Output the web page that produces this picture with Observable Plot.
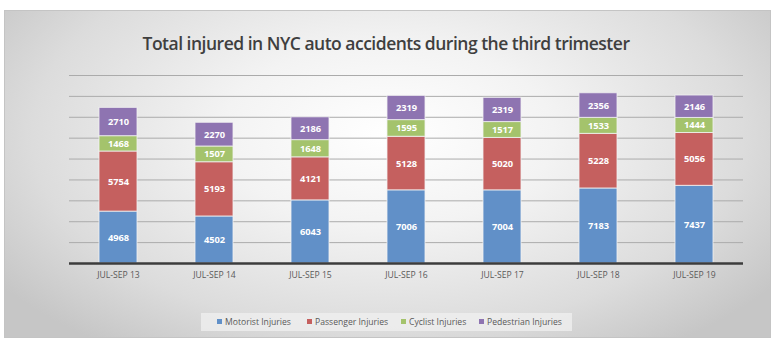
<!DOCTYPE html>
<html>
<head>
<meta charset="utf-8">
<script src="https://cdn.jsdelivr.net/npm/d3@7"></script>
<script src="https://cdn.jsdelivr.net/npm/@observablehq/plot@0.6"></script>
<style>
  html, body { margin: 0; padding: 0; background: #ffffff; }
  body { width: 778px; height: 349px; position: relative; overflow: hidden; font-family: "Open Sans", sans-serif; }
  #frame {
    position: absolute; left: 4px; top: 10px; width: 765px; height: 326px;
    border: 1px solid #c4c4c4;
    background: radial-gradient(ellipse 62% 80% at 50% 38%, #ffffff 0%, #f3f3f3 35%, #dcdcdc 75%, #c6c6c6 100%);
  }
  #title {
    position: absolute; left: 0; width: 772px; top: 31px; text-align: center;
    font-size: 17.5px; font-weight: 600; color: #3f3f3f; letter-spacing: -0.5px;
  }
  #chart { position: absolute; left: 0; top: 60px; }
  #legend {
    position: absolute; left: 201px; top: 313px; width: 371px; height: 18px;
    background: rgba(240,240,240,0.75);
  }
  .item { position: absolute; top: 0; height: 18px; line-height: 18px; font-size: 8.6px; color: #595959; white-space: nowrap; }
  .sw { display: inline-block; width: 5px; height: 5px; margin-right: 3px; vertical-align: 1px; }
</style>
</head>
<body>
<div id="frame"></div>
<div id="title"></div>
<div id="chart"></div>
<div id="legend"></div>
<script>
const titleText = "Total injured in NYC auto accidents during the third trimester";
const periods = ["JUL-SEP 13", "JUL-SEP 14", "JUL-SEP 15", "JUL-SEP 16", "JUL-SEP 17", "JUL-SEP 18", "JUL-SEP 19"];
const seriesNames = ["Motorist Injuries", "Passenger Injuries", "Cyclist Injuries", "Pedestrian Injuries"];
const motorist   = [4968, 4502, 6043, 7006, 7004, 7183, 7437];
const passenger  = [5754, 5193, 4121, 5128, 5020, 5228, 5056];
const cyclist    = [1468, 1507, 1648, 1595, 1517, 1533, 1444];
const pedestrian = [2710, 2270, 2186, 2319, 2319, 2356, 2146];
const gridTicks  = [2000, 4000, 6000, 8000, 10000, 12000, 14000, 16000, 18000];
const colors = ["#6190C8", "#C5605F", "#A4C36C", "#8E74B1"];

const seriesValues = [motorist, passenger, cyclist, pedestrian];
const data = [];
periods.forEach((p, i) => {
  seriesNames.forEach((s, j) => data.push({period: p, series: s, value: seriesValues[j][i]}));
});

document.getElementById("title").textContent = titleText;

const plot = Plot.plot({
  width: 778,
  height: 230,
  marginLeft: 69,
  marginRight: 35,
  marginTop: 15,
  marginBottom: 27,
  style: {background: "transparent", fontFamily: "Open Sans, sans-serif", overflow: "visible"},
  x: {domain: periods, paddingInner: 0.6, paddingOuter: 0.3, label: null},
  y: {domain: [0, 18000], axis: null},
  color: {domain: seriesNames, range: colors},
  marks: [
    Plot.ruleY(gridTicks, {stroke: "#ababab", strokeWidth: 1}),
    Plot.barY(data, {x: "period", y: "value", z: "series", fill: "series", stroke: "#f2f2f2", strokeWidth: 1, strokeOpacity: 0.8}),
    Plot.text(data, Plot.stackY({x: "period", y: "value", z: "series", text: d => String(d.value), fill: "white", fontWeight: "bold", fontSize: 9.3})),
    Plot.ruleY([0], {stroke: "#3c3c3c", strokeWidth: 2.5}),
    Plot.axisX({tickSize: 0, tickPadding: 8, fontSize: 8.6, fill: "#595959", label: null})
  ]
});
document.getElementById("chart").appendChild(plot);

const legendX = [16, 106, 200, 278];
const legend = document.getElementById("legend");
seriesNames.forEach((s, i) => {
  const it = document.createElement("div");
  it.className = "item";
  it.style.left = legendX[i] + "px";
  const sw = document.createElement("span");
  sw.className = "sw";
  sw.style.background = colors[i];
  it.appendChild(sw);
  it.appendChild(document.createTextNode(s));
  legend.appendChild(it);
});
</script>
</body>
</html>
